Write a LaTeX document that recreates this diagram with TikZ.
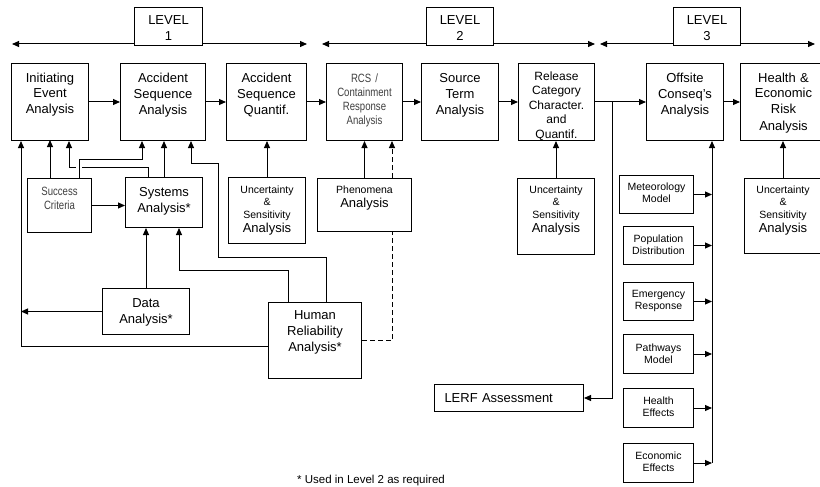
\documentclass[tikz,border=0pt]{standalone}
\usepackage{fontspec}
\setmainfont{Liberation Sans}
\newfontfamily\narrowfont[FakeStretch=0.8]{Liberation Sans}
\usetikzlibrary{arrows.meta}

\newcommand{\txtL}{\fontsize{13}{16}\selectfont}
\newcommand{\txtM}{\fontsize{12}{14.5}\selectfont}
\newcommand{\txtS}{\fontsize{10.5}{12.5}\selectfont}
\newcommand{\txtN}{\narrowfont\fontsize{12}{14}\selectfont}

\tikzset{
  caja/.style={draw, fill=white, line width=1pt, inner sep=0pt, align=center,
    anchor=north west, font=\txtL},
  hd/.style 2 args={text height=#1pt, text depth=#2pt},
  gris/.style={font=\txtN, text=black!75},
  chica/.style={font=\txtS},
}

\begin{document}
\begin{tikzpicture}[x=1pt, y=-1pt, line width=1pt, >={Triangle[length=7pt,width=6pt]}]
    \useasboundingbox (0,0) rectangle (820,487);

    % Niveles
    \draw[<->] (12,44) -- (307,44);
    \draw[<->] (322,44) -- (595,44);
    \draw[<->] (600,44) -- (815,44);
    \node[caja, text width=68pt, hd={17.5}{20.5}] (lv1) at (134,7) {LEVEL\\1};
    \node[caja, text width=67pt, hd={17.5}{20.5}] (lv2) at (426,7) {LEVEL\\2};
    \node[caja, text width=67pt, hd={17.5}{20.5}] (lv3) at (673,7) {LEVEL\\3};

    % Fila superior
    \node[caja, text width=77pt, hd={18.5}{58.5}] (ie) at (11,63) {Initiating\\Event\\Analysis};
    \node[caja, text width=85pt, hd={19.5}{57.5}] (asa) at (120,63) {Accident\\Sequence\\Analysis};
    \node[caja, text width=80pt, hd={19.5}{57.5}] (asq) at (226,63) {Accident\\Sequence\\Quantif.};
    \node[caja, gris, text width=76pt, hd={19}{58}] (rcs) at (326,63) {RCS /\\Containment\\Response\\Analysis};
    \node[caja, text width=77pt, hd={19.5}{57.5}] (st) at (421,63) {Source\\Term\\Analysis};
    \node[caja, text width=76pt, hd={17}{60}, font=\txtM] (rel) at (518,63) {Release\\Category\\Character.\\and\\Quantif.};
    \node[caja, text width=77pt, hd={19.5}{57.5}] (off) at (646,63) {Offsite\\Conseq's\\Analysis};
    \node[caja, text width=86pt, hd={18.5}{58.5}] (hea) at (740,63) {Health \&\\Economic\\Risk\\Analysis};

    % Segunda fila
    \node[caja, gris, text width=64pt, hd={17}{37}] (sc) at (27,178) {Success\\Criteria};
    \node[caja, text width=77pt, hd={18.5}{31.5}] (sys) at (125,177) {Systems\\Analysis*};
    \node[caja, chica, text width=77pt, hd={15.7}{50.3}] (unc1) at (228,177) {Uncertainty\\\&\\Sensitivity\\[1.5pt]{\txtL Analysis}};
    \node[caja, chica, text width=94pt, hd={14.7}{38.3}] (phen) at (317,178) {Phenomena\\[1.5pt]{\txtL Analysis}};
    \node[caja, chica, text width=77pt, hd={14.7}{61.3}] (unc2) at (517,178) {Uncertainty\\\&\\Sensitivity\\[1.5pt]{\txtL Analysis}};
    \node[caja, chica, text width=77pt, hd={14.7}{60.3}] (unc3) at (744,178) {Uncertainty\\\&\\Sensitivity\\[1.5pt]{\txtL Analysis}};

    % Datos y HRA
    \node[caja, text width=87pt, hd={18.5}{27.5}] (data) at (102,288) {Data\\Analysis*};
    \node[caja, text width=93pt, hd={16.5}{59.5}] (hra) at (268,302) {Human\\Reliability\\Analysis*};
    \node[caja, text width=129pt, inner xsep=10pt, align=left, hd={18}{9}] (lerf) at (434,384) {LERF Assessment};

    % Entradas del nivel 3
    \node[caja, chica, text width=74pt, hd={14.7}{23.3}] (met) at (619,175) {Meteorology\\Model};
    \node[caja, chica, text width=70pt, hd={15.7}{22.3}] (pop) at (623,226) {Population\\Distribution};
    \node[caja, chica, text width=70pt, hd={14.7}{23.3}] (eme) at (623,282) {Emergency\\Response};
    \node[caja, chica, text width=70pt, hd={16.5}{22.5}] (pat) at (623,334) {Pathways\\Model};
    \node[caja, chica, text width=70pt, hd={15.7}{23.3}] (hef) at (623,388) {Health\\Effects};
    \node[caja, chica, text width=70pt, hd={15.7}{23.3}] (eco) at (623,443) {Economic\\Effects};

    \node[font=\fontsize{11.5}{14}\selectfont] (nota) at (371,481) {* Used in Level 2 as required};

    % Flechas de la fila superior
    \draw[->] (ie) -- (asa);
    \draw[->] (asa) -- (asq);
    \draw[->] (asq) -- (rcs);
    \draw[->] (rcs) -- (st);
    \draw[->] (st) -- (rel);
    \draw[->] (rel) -- (off);
    \draw[->] (off) -- (hea);

    % Incertidumbre y fenomenos
    \draw[->] (unc1.north) -- (unc1.north |- asq.south);
    \draw[->] (unc2.north) -- (unc2.north |- rel.south);
    \draw[->] (unc3.north) -- (unc3.north |- hea.south);
    \draw[->] (phen.north) -- (phen.north |- rcs.south);
    \coordinate (dsh) at ([xshift=-20pt]phen.north east);
    \draw[dash pattern=on 5pt off 3pt] (hra.east) -| ([xshift=-20pt]phen.south east);
    \draw[->, dash pattern=on 5pt off 3pt] (dsh) -- (dsh |- rcs.south);

    % Entradas del nivel 1
    \coordinate (ieleft) at ([xshift=10pt]ie.south west);
    \draw[->] ([yshift=-6pt]hra.west) -| (ieleft);
    \draw[->] (data.west) -- (data.west -| ieleft);
    \draw[->] ([xshift=23pt]sc.north west) -- ++(0,-38);
    \draw[->] ([xshift=23pt]sys.north west) -- ++(0,-10) -| ([xshift=58pt]ie.south west);
    \draw[->, preaction={draw=white, line width=6pt, -, shorten <=2pt, shorten >=8pt}]
        ([xshift=52pt]sc.north west) -- ++(0,-19) -| ([xshift=22pt]asa.south west);
    \draw[->] (sys.north) -- (sys.north |- asa.south);
    \draw[->] (data.north) -- (data.north |- sys.south);
    \draw[->] (sc) -- (sc -| sys.west);
    \draw[->] ([xshift=20pt]hra.north west) -- ++(0,-32) -| ([xshift=54pt]sys.south west);
    \draw[->] ([xshift=58pt]hra.north west) -- ++(0,-45) -- ++(-108,0) -- ++(0,-94)
        -| ([xshift=71pt]asa.south west);

    % LERF
    \draw[->] ([xshift=17pt]rel.east) |- (lerf);

    % Nivel 3
    \coordinate (bus) at ([xshift=-12pt]off.south east);
    \draw[->] (eco.east -| bus) -- (bus);
    \foreach \n in {met,pop,eme,pat,hef,eco}
        \draw[->] (\n) -- (\n -| bus);
\end{tikzpicture}
\end{document}
